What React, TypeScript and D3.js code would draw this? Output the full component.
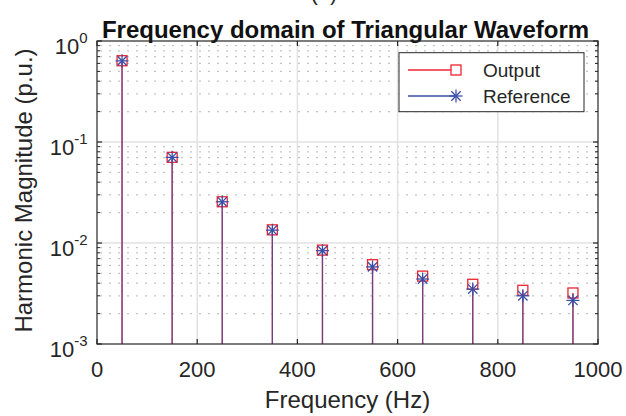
import React from 'react';
import * as d3 from 'd3';

// harmonic frequencies (Hz) and magnitudes (p.u.)
const freqs = [50, 150, 250, 350, 450, 550, 650, 750, 850, 950];
const outputMag = [0.638, 0.0705, 0.0256, 0.0135, 0.0085, 0.0061, 0.0047, 0.0039, 0.0034, 0.0032];
const referenceMag = [0.636, 0.0705, 0.0256, 0.0134, 0.0084, 0.0058, 0.0044, 0.0035, 0.003, 0.0027];

const xTicks = [0, 200, 400, 600, 800, 1000];
const yExponents = [0, -1, -2, -3];
const seriesNames = ['Output', 'Reference'];

const W = 626;
const H = 416;
const margin = { top: 41, right: 28, bottom: 72, left: 97 };
const FONT = '"Liberation Sans", Arial, Helvetica, sans-serif';
const AXIS = '#262626';
const RED = '#ee2430';
const BLUE = '#3a4ea6';

const Square = ({ cx, cy, s = 10 }: any) => (
  <rect x={cx - s / 2} y={cy - s / 2} width={s} height={s} fill="none" stroke={RED} strokeWidth={1.3} />
);

const Star = ({ cx, cy, r = 6.5 }: any) => {
  const d = r * 0.72;
  return (
    <g stroke={BLUE} strokeWidth={1.3}>
      <line x1={cx - r} y1={cy} x2={cx + r} y2={cy} />
      <line x1={cx} y1={cy - r} x2={cx} y2={cy + r} />
      <line x1={cx - d} y1={cy - d} x2={cx + d} y2={cy + d} />
      <line x1={cx - d} y1={cy + d} x2={cx + d} y2={cy - d} />
    </g>
  );
};

export default function App() {
  const x = d3.scaleLinear().domain([0, 1000]).range([margin.left, W - margin.right]);
  const y = d3.scaleLog().domain([1e-3, 1]).range([H - margin.bottom, margin.top]);
  const [x0, x1] = x.range();
  const [yb, yt] = y.range();

  const minorY: number[] = [];
  for (let e = -3; e < 0; e++) {
    for (let k = 2; k <= 9; k++) minorY.push(k * Math.pow(10, e));
  }
  const majorY = yExponents.map((e) => Math.pow(10, e));

  return (
    <svg width={W} height={H} style={{ position: 'absolute', left: 0, top: 0, background: '#fff' }} fontFamily={FONT}>
      {/* cut-off subplot caption */}
      <text x={324} y={-0.5} fontSize={22} textAnchor="middle" fill={AXIS}>(a)</text>

      <text x={(x0 + x1) / 2 - 2} y={38} fontSize={24} fontWeight="bold" textAnchor="middle" fill="#111">
        Frequency domain of Triangular Waveform
      </text>

      {/* minor grid (y only) */}
      {minorY.map((v, i) => (
        <line key={'mg' + i} x1={x0} x2={x1} y1={y(v)} y2={y(v)} stroke="#c4c4c4" strokeWidth={1.2}
          strokeDasharray="2 7" strokeDashoffset={6} />
      ))}
      {/* major grid */}
      {majorY.filter((v) => v > 1e-3 && v < 1).map((v, i) => (
        <line key={'gy' + i} x1={x0} x2={x1} y1={y(v)} y2={y(v)} stroke="#e2e2e2" strokeWidth={1.5} />
      ))}
      {xTicks.filter((t) => t > 0 && t < 1000).map((t) => (
        <line key={'gx' + t} x1={x(t)} x2={x(t)} y1={yt} y2={yb} stroke="#e2e2e2" strokeWidth={1.5} />
      ))}

      {/* stems */}
      {freqs.map((f, i) => (
        <line key={'so' + f} x1={x(f)} x2={x(f)} y1={yb} y2={y(outputMag[i])} stroke={RED} strokeWidth={1.3} />
      ))}
      {freqs.map((f, i) => (
        <line key={'sr' + f} x1={x(f)} x2={x(f)} y1={yb} y2={y(referenceMag[i])} stroke={BLUE} strokeWidth={1.3} opacity={0.7} />
      ))}
      {freqs.map((f, i) => (
        <Square key={'mo' + f} cx={x(f)} cy={y(outputMag[i])} />
      ))}
      {freqs.map((f, i) => (
        <Star key={'mr' + f} cx={x(f)} cy={y(referenceMag[i])} />
      ))}

      {/* axes box and ticks */}
      <rect x={x0} y={yt} width={x1 - x0} height={yb - yt} fill="none" stroke={AXIS} strokeWidth={1.2} />
      {xTicks.map((t) => (
        <g key={'xt' + t} stroke={AXIS} strokeWidth={1.2}>
          <line x1={x(t)} x2={x(t)} y1={yb} y2={yb - 5} />
          <line x1={x(t)} x2={x(t)} y1={yt} y2={yt + 5} />
        </g>
      ))}
      {majorY.map((v, i) => (
        <g key={'yt' + i} stroke={AXIS} strokeWidth={1.2}>
          <line x1={x0} x2={x0 + 5} y1={y(v)} y2={y(v)} />
          <line x1={x1} x2={x1 - 5} y1={y(v)} y2={y(v)} />
        </g>
      ))}
      {minorY.map((v, i) => (
        <g key={'ymt' + i} stroke={AXIS} strokeWidth={1}>
          <line x1={x0} x2={x0 + 3} y1={y(v)} y2={y(v)} />
          <line x1={x1} x2={x1 - 3} y1={y(v)} y2={y(v)} />
        </g>
      ))}

      {/* tick labels */}
      {xTicks.map((t) => (
        <text key={'xl' + t} x={x(t)} y={yb + 33} fontSize={22} textAnchor="middle" fill={AXIS}>{t}</text>
      ))}
      {yExponents.map((e) => (
        <text key={'yl' + e} x={x0 - 9.5} y={y(Math.pow(10, e)) + 12.7} fontSize={22} textAnchor="end" fill={AXIS}>
          10<tspan fontSize={15} dy={-11}>{e === 0 ? '0' : '-' + Math.abs(e)}</tspan>
        </text>
      ))}

      {/* axis labels */}
      <text x={(x0 + x1) / 2} y={408} fontSize={24} textAnchor="middle" fill={AXIS}>Frequency (Hz)</text>
      <text transform={`translate(32,${(yt + yb) / 2 - 2}) rotate(-90)`} fontSize={24} textAnchor="middle" fill={AXIS}>
        Harmonic Magnitude (p.u.)
      </text>

      {/* legend */}
      <g>
        <rect x={399} y={52.7} width={185} height={59} fill="#fff" stroke={AXIS} strokeWidth={1} />
        <line x1={408} x2={451} y1={70} y2={70} stroke={RED} strokeWidth={1.3} />
        <Square cx={456} cy={70} />
        <text x={483} y={77.3} fontSize={19} fill={AXIS}>{seriesNames[0]}</text>
        <line x1={408} x2={456} y1={96} y2={96} stroke={BLUE} strokeWidth={1.3} />
        <Star cx={456} cy={96} />
        <text x={483} y={103.3} fontSize={19} fill={AXIS}>{seriesNames[1]}</text>
      </g>
    </svg>
  );
}
